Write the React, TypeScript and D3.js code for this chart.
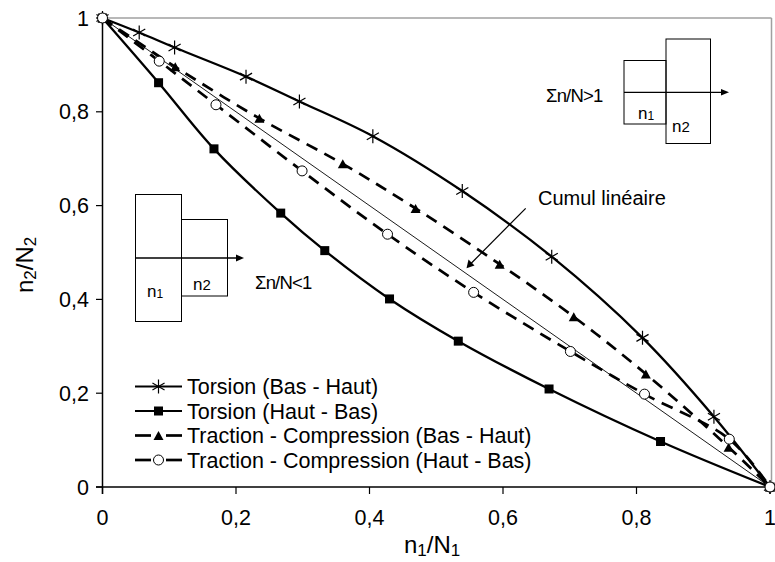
import React from "react";
import * as d3 from "d3";

const xTicks = [0, 0.2, 0.4, 0.6, 0.8, 1];
const yTicks = [0, 0.2, 0.4, 0.6, 0.8, 1];
const tickLabels = ["0", "0,2", "0,4", "0,6", "0,8", "1"];

const torsionBH_x = [0, 0.055, 0.108, 0.215, 0.295, 0.405, 0.539, 0.673, 0.809, 0.916, 1];
const torsionBH_y = [1, 0.969, 0.937, 0.875, 0.822, 0.748, 0.631, 0.491, 0.318, 0.15, 0];

const torsionHB_x = [0, 0.084, 0.167, 0.267, 0.333, 0.43, 0.533, 0.669, 0.836, 1];
const torsionHB_y = [1, 0.862, 0.721, 0.584, 0.504, 0.401, 0.311, 0.209, 0.097, 0];

const tractionBH_x = [0, 0.109, 0.235, 0.36, 0.469, 0.595, 0.706, 0.814, 0.938, 1];
const tractionBH_y = [1, 0.896, 0.786, 0.689, 0.594, 0.475, 0.363, 0.241, 0.085, 0];

const tractionHB_x = [0, 0.085, 0.17, 0.299, 0.427, 0.556, 0.701, 0.812, 0.939, 1];
const tractionHB_y = [1, 0.908, 0.815, 0.674, 0.539, 0.415, 0.289, 0.198, 0.102, 0];

const linear_x = [0, 1];
const linear_y = [1, 0];

const legendLabels = [
  "Torsion (Bas - Haut)",
  "Torsion (Haut - Bas)",
  "Traction - Compression (Bas - Haut)",
  "Traction - Compression (Haut - Bas)",
];

const FONT = "'Liberation Sans', Arial, sans-serif";

const x = d3.scaleLinear().domain([0, 1]).range([102.5, 770]);
const y = d3.scaleLinear().domain([0, 1]).range([487, 18]);

function pts(xs: number[], ys: number[]): [number, number][] {
  return xs.map((v, i) => [x(v), y(ys[i])]);
}

const curveLine = d3.line().curve(d3.curveCatmullRom.alpha(0.5));
const straightLine = d3.line();

function Star({ cx, cy, r = 7 }: { cx: number; cy: number; r?: number }) {
  const d = [0, 60, 120].map((a) => {
    const rad = ((a + 90) * Math.PI) / 180;
    const dx = Math.cos(rad) * r;
    const dy = Math.sin(rad) * r;
    return `M${cx - dx},${cy - dy}L${cx + dx},${cy + dy}`;
  }).join("");
  return <path d={d} stroke="#000" strokeWidth={1.2} fill="none" />;
}
function Square({ cx, cy, s = 9 }: { cx: number; cy: number; s?: number }) {
  return <rect x={cx - s / 2} y={cy - s / 2} width={s} height={s} fill="#000" />;
}
function Tri({ cx, cy, s = 10 }: { cx: number; cy: number; s?: number }) {
  const h = s * 0.9;
  return <path d={`M${cx},${cy - h / 2}L${cx + s / 2},${cy + h / 2}L${cx - s / 2},${cy + h / 2}Z`} fill="#000" />;
}
function Circ({ cx, cy }: { cx: number; cy: number }) {
  return <circle cx={cx} cy={cy} r={5} fill="#fff" stroke="#000" strokeWidth={1} />;
}

export default function App() {
  const tBH = pts(torsionBH_x, torsionBH_y);
  const tHB = pts(torsionHB_x, torsionHB_y);
  const trBH = pts(tractionBH_x, tractionBH_y);
  const trHB = pts(tractionHB_x, tractionHB_y);
  const lin = pts(linear_x, linear_y);

  const legendY0 = 386.5;
  const legendDy = 24.5;

  return (
    <svg width={775} height={562} style={{ position: "absolute", left: 0, top: 0, background: "#fff" }}>
      <rect width={775} height={562} fill="#fff" />
      {/* plot border (gray top & right) */}
      <line x1={102.5} x2={771.5} y1={18} y2={18} stroke="#a0a0a0" strokeWidth={1.5} />
      <line x1={771.5} x2={771.5} y1={18} y2={487} stroke="#a0a0a0" strokeWidth={1.5} />

      {/* axes */}
      <line x1={102.5} x2={102.5} y1={18} y2={494} stroke="#000" strokeWidth={1.5} />
      <line x1={96} x2={771.5} y1={487} y2={487} stroke="#000" strokeWidth={1.5} />
      {yTicks.map((t, i) => (
        <g key={"yt" + i}>
          <line x1={96} x2={102.5} y1={y(t)} y2={y(t)} stroke="#000" strokeWidth={1.2} />
          <text x={89} y={y(t) + 7.5} textAnchor="end" fontFamily={FONT} fontSize={21.5}>
            {tickLabels[i]}
          </text>
        </g>
      ))}
      {xTicks.map((t, i) => (
        <g key={"xt" + i}>
          <line x1={x(t)} x2={x(t)} y1={487} y2={494} stroke="#000" strokeWidth={1.2} />
          <text x={x(t)} y={525} textAnchor="middle" fontFamily={FONT} fontSize={21.5}>
            {tickLabels[i]}
          </text>
        </g>
      ))}

      {/* axis titles */}
      <text x={404} y={553} fontFamily={FONT} fontSize={24}>
        n<tspan fontSize={17} dy={3}>1</tspan>
        <tspan dy={-3}>/N</tspan>
        <tspan fontSize={17} dy={3}>1</tspan>
      </text>
      <text transform="translate(33,293) rotate(-90)" fontFamily={FONT} fontSize={24}>
        n<tspan fontSize={17} dy={3}>2</tspan>
        <tspan dy={-3}>/N</tspan>
        <tspan fontSize={17} dy={3}>2</tspan>
      </text>

      {/* linear cumulative line */}
      <path d={straightLine(lin) || ""} stroke="#000" strokeWidth={0.9} fill="none" />

      {/* series */}
      <path d={curveLine(tBH) || ""} stroke="#000" strokeWidth={2.3} fill="none" />
      <path d={curveLine(tHB) || ""} stroke="#000" strokeWidth={2.3} fill="none" />
      <path d={curveLine(trBH) || ""} stroke="#000" strokeWidth={2.7} strokeDasharray="12,8" fill="none" />
      <path d={curveLine(trHB) || ""} stroke="#000" strokeWidth={2.7} strokeDasharray="12,8" fill="none" />

      {tBH.map((p, i) => <Star key={"s" + i} cx={p[0]} cy={p[1]} />)}
      {tHB.map((p, i) => <Square key={"q" + i} cx={p[0]} cy={p[1]} />)}
      {trBH.map((p, i) => <Tri key={"t" + i} cx={p[0]} cy={p[1]} />)}
      {trHB.map((p, i) => <Circ key={"c" + i} cx={p[0]} cy={p[1]} />)}

      {/* inset left: sum < 1 */}
      <rect x={135.5} y={194.5} width={46} height={127} fill="none" stroke="#000" strokeWidth={1} />
      <rect x={181.5} y={219.5} width={46} height={76.5} fill="none" stroke="#000" strokeWidth={1} />
      <line x1={135.5} x2={238} y1={258} y2={258} stroke="#000" strokeWidth={1.5} />
      <path d="M244,258L236,254.5L236,261.5Z" fill="#000" />
      <text x={147} y={297} fontFamily={FONT} fontSize={17}>
        n<tspan fontSize={12} dy={1}>1</tspan>
      </text>
      <text x={193} y={290} fontFamily={FONT} fontSize={17}>
        n<tspan fontSize={15}>2</tspan>
      </text>
      <text x={255} y={289} fontFamily={FONT} fontSize={18.5} letterSpacing={-0.8}>
        Σn/N&lt;1
      </text>

      {/* inset right: sum > 1 */}
      <rect x={624} y={60.5} width={42} height={63.5} fill="none" stroke="#000" strokeWidth={1} />
      <rect x={666} y={39} width={44.5} height={104.5} fill="none" stroke="#000" strokeWidth={1} />
      <line x1={624} x2={723} y1={92.3} y2={92.3} stroke="#000" strokeWidth={1.2} />
      <path d="M729,92.3L721,89L721,95.6Z" fill="#000" />
      <text x={638} y={119} fontFamily={FONT} fontSize={17}>
        n<tspan fontSize={12} dy={1}>1</tspan>
      </text>
      <text x={672} y={131.5} fontFamily={FONT} fontSize={17}>
        n<tspan fontSize={15}>2</tspan>
      </text>
      <text x={546} y={101.5} fontFamily={FONT} fontSize={18.5} letterSpacing={-0.8}>
        Σn/N&gt;1
      </text>

      {/* annotation */}
      <text x={538} y={205} fontFamily={FONT} fontSize={20}>Cumul linéaire</text>
      <line x1={525.7} y1={208.3} x2={470} y2={264.5} stroke="#000" strokeWidth={1.2} />
      <path d="M466.5,268.3L468.5,259.5L474.5,265.5Z" fill="#000" />

      {/* legend */}
      {legendLabels.map((lab, i) => {
        const ly = legendY0 + i * legendDy;
        const dashed = i >= 2;
        return (
          <g key={"lg" + i}>
            {dashed ? (
              <>
                <line x1={135} x2={151} y1={ly} y2={ly} stroke="#000" strokeWidth={2.7} />
                <line x1={166} x2={182} y1={ly} y2={ly} stroke="#000" strokeWidth={2.7} />
              </>
            ) : (
              <line x1={135} x2={182} y1={ly} y2={ly} stroke="#000" strokeWidth={1.8} />
            )}
            {i === 0 && <Star cx={158.5} cy={ly} />}
            {i === 1 && <Square cx={158.5} cy={ly} />}
            {i === 2 && <Tri cx={158.5} cy={ly} />}
            {i === 3 && <Circ cx={158.5} cy={ly} />}
            <text x={187} y={ly + 7.5} fontFamily={FONT} fontSize={21.5}>
              {lab}
            </text>
          </g>
        );
      })}
    </svg>
  );
}
